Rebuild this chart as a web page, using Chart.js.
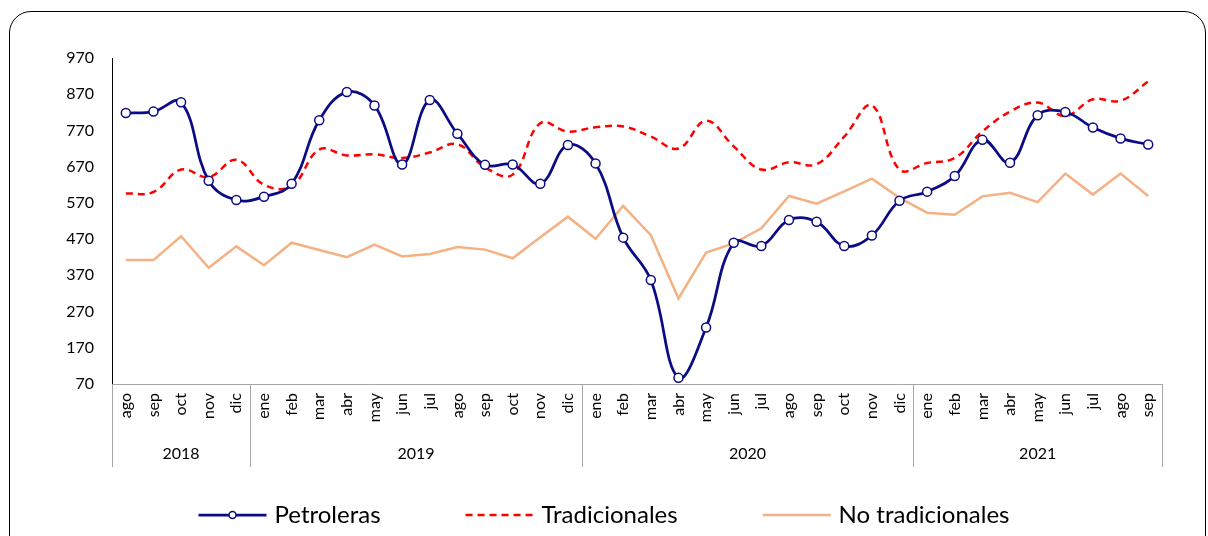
<!DOCTYPE html>
<html>
<head>
<meta charset="utf-8">
<script src="https://cdn.jsdelivr.net/npm/chart.js@4/dist/chart.umd.min.js"></script>
<style>
  html, body { margin: 0; padding: 0; background: #fff; overflow: hidden; }
  #wrap { position: relative; width: 1208px; height: 536px; }
  #frame {
    position: absolute; left: 9px; top: 11px; width: 1197px; height: 600px;
    border: 1.5px solid #000; border-radius: 22px; box-sizing: border-box;
  }
  #chart { position: absolute; left: 0; top: 0; }
</style>
</head>
<body>
<div id="wrap">
  <div id="frame"></div>
  <canvas id="chart" width="1208" height="536"></canvas>
</div>
<script>
const meses = [
  'ago', 'sep', 'oct', 'nov', 'dic',
  'ene', 'feb', 'mar', 'abr', 'may', 'jun', 'jul', 'ago', 'sep', 'oct', 'nov', 'dic',
  'ene', 'feb', 'mar', 'abr', 'may', 'jun', 'jul', 'ago', 'sep', 'oct', 'nov', 'dic',
  'ene', 'feb', 'mar', 'abr', 'may', 'jun', 'jul', 'ago', 'sep'
];
const anios = ['2018', '2019', '2020', '2021'];
const mesesPorAnio = [5, 12, 12, 9];

const petroleras = [
  818, 822, 848, 631, 578,
  587, 623, 798, 876, 839, 676, 854, 761, 675, 676, 623, 730,
  679, 474, 357, 87, 226, 460, 451, 523, 518, 451, 480, 576,
  601, 644, 744, 681, 812, 821, 778, 748, 731
];
const tradicionales = [
  596, 600, 662, 641, 689,
  620, 616, 717, 701, 704, 694, 709, 732, 668, 648, 790, 767,
  779, 781, 753, 720, 797, 726, 662, 682, 677, 753, 839, 662,
  680, 694, 767, 822, 847, 810, 856, 852, 905
];
const noTradicionales = [
  412, 412, 478, 391, 450,
  398, 460, 440, 420, 455, 422, 429, 448, 441, 417, 475, 532,
  471, 562, 481, 306, 433, 458, 500, 589, 568, 602, 637, 584,
  543, 537, 588, 598, 572, 651, 593, 651, 589
];
const yTicks = [70, 170, 270, 370, 470, 570, 670, 770, 870, 970];

const FONT = 'Lato, "Liberation Sans", sans-serif';

// Etiquetas de año y separadores bajo el eje X
const yearGroups = {
  id: 'yearGroups',
  afterDraw(chart) {
    const ctx = chart.ctx;
    const x = chart.scales.x;
    const area = chart.chartArea;
    const edge = (i) => {
      if (i <= 0) return area.left;
      if (i >= meses.length) return area.right;
      return (x.getPixelForValue(i - 1) + x.getPixelForValue(i)) / 2;
    };
    ctx.save();
    ctx.strokeStyle = '#a6a6a6';
    ctx.lineWidth = 1;
    let start = 0;
    const bounds = [0];
    mesesPorAnio.forEach(n => { start += n; bounds.push(start); });
    bounds.forEach(b => {
      const px = Math.round(edge(b)) + 0.5;
      ctx.beginPath();
      ctx.moveTo(px, area.bottom);
      ctx.lineTo(px, area.bottom + 83);
      ctx.stroke();
    });
    ctx.fillStyle = '#000';
    ctx.font = '16px ' + FONT;
    ctx.textAlign = 'center';
    ctx.textBaseline = 'middle';
    anios.forEach((a, i) => {
      const cx = (edge(bounds[i]) + edge(bounds[i + 1])) / 2;
      ctx.fillText(a, cx, area.bottom + 70);
    });
    ctx.restore();
  }
};

// Leyenda dibujada a mano para imitar las muestras de línea
const customLegend = {
  id: 'customLegend',
  afterDraw(chart) {
    const ctx = chart.ctx;
    const sets = chart.data.datasets;
    const sample = 68, gapText = 8, gapItem = 85, y = 515;
    ctx.save();
    ctx.font = '24px ' + FONT;
    const widths = sets.map(d => sample + gapText + ctx.measureText(d.label).width);
    const total = widths.reduce((a, b) => a + b, 0) + gapItem * (sets.length - 1);
    let x = (chart.width - total) / 2;
    sets.forEach((d, i) => {
      ctx.strokeStyle = d.borderColor;
      ctx.lineWidth = d.borderWidth;
      ctx.setLineDash(d.borderDash || []);
      ctx.beginPath();
      ctx.moveTo(x, y);
      ctx.lineTo(x + sample, y);
      ctx.stroke();
      ctx.setLineDash([]);
      if (d.pointRadius > 0) {
        ctx.beginPath();
        ctx.arc(x + sample / 2, y, 3.5, 0, Math.PI * 2);
        ctx.fillStyle = d.pointBackgroundColor;
        ctx.fill();
        ctx.lineWidth = 1.5;
        ctx.strokeStyle = d.pointBorderColor;
        ctx.stroke();
      }
      ctx.fillStyle = '#000';
      ctx.textAlign = 'left';
      ctx.textBaseline = 'middle';
      ctx.fillText(d.label, x + sample + gapText, y);
      x += widths[i] + gapItem;
    });
    ctx.restore();
  }
};

new Chart(document.getElementById('chart'), {
  type: 'line',
  data: {
    labels: meses,
    datasets: [
      {
        label: 'Petroleras',
        data: petroleras,
        borderColor: '#0b0b84',
        borderWidth: 2.75,
        tension: 0.4,
        pointRadius: 4.5,
        pointBackgroundColor: '#fff',
        pointBorderColor: '#0b0b84',
        pointBorderWidth: 1.5,
        order: 0,
      },
      {
        label: 'Tradicionales',
        data: tradicionales,
        borderColor: '#ff0000',
        borderWidth: 2.5,
        borderDash: [7, 5],
        tension: 0.4,
        pointRadius: 0,
        order: 1,
      },
      {
        label: 'No tradicionales',
        data: noTradicionales,
        borderColor: '#f4b183',
        borderWidth: 2.5,
        tension: 0,
        pointRadius: 0,
        order: 2,
      },
    ],
  },
  options: {
    responsive: false,
    animation: false,
    layout: { padding: { left: 0, right: 46, top: 58, bottom: 0 } },
    plugins: {
      legend: { display: false },
      tooltip: { enabled: false },
    },
    scales: {
      x: {
        offset: true,
        grid: { display: false, drawTicks: false, offset: true },
        border: { display: true, color: '#a6a6a6', width: 1 },
        ticks: {
          autoSkip: false,
          minRotation: 90,
          maxRotation: 90,
          padding: 9,
          color: '#000',
          font: { family: FONT, size: 16 },
        },
        afterFit(scale) { scale.height = 152; },
      },
      y: {
        min: 70,
        max: 970,
        grid: { display: false, drawTicks: false },
        border: { display: true, color: '#000', width: 1 },
        afterBuildTicks(scale) { scale.ticks = yTicks.map(v => ({ value: v })); },
        ticks: {
          padding: 18,
          color: '#000',
          font: { family: FONT, size: 16 },
        },
        afterFit(scale) { scale.width = 112; },
      },
    },
  },
  plugins: [yearGroups, customLegend],
});
</script>
</body>
</html>
